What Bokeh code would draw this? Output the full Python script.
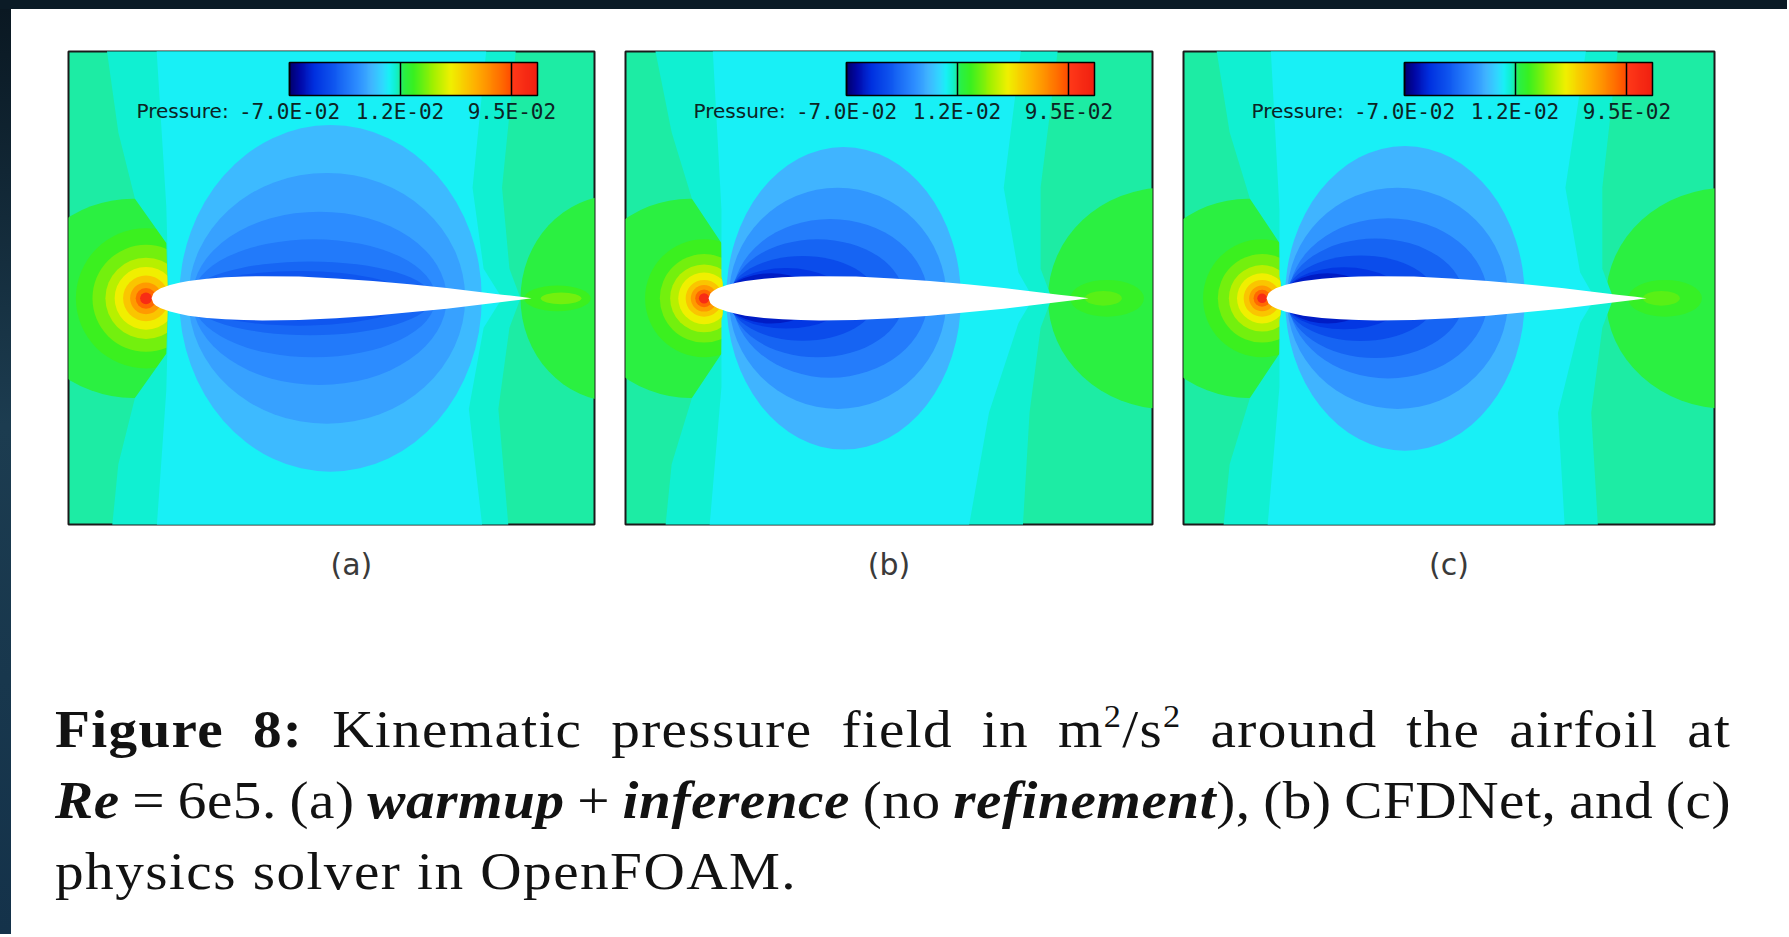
from bokeh.plotting import figure
from bokeh.models import (ColumnDataSource, LinearColorMapper, ColorBar, FixedTicker,
                          CustomJSTickFormatter, Label, Title, Div)
from bokeh.layouts import column, row
from bokeh.transform import transform
from bokeh.embed import file_html
from bokeh.resources import INLINE

# ------------------------------------------------------------------ data
# legend range / ticks (kinematic pressure, m^2/s^2)
P_LOW = -0.070
P_HIGH = 0.114
LEGEND_TICKS = [-0.070, 0.012, 0.095]

# airfoil: chordwise stations and half-thickness (chord units)
AIRFOIL_X = [0.0, 0.005, 0.0125, 0.025, 0.05, 0.075, 0.1, 0.15, 0.2, 0.25, 0.3,
             0.4, 0.5, 0.6, 0.7, 0.8, 0.9, 0.95, 1.0, 1.03]
AIRFOIL_T = [0.0, 0.013, 0.020, 0.027, 0.036, 0.042, 0.047, 0.053, 0.057, 0.059, 0.060,
             0.059, 0.054, 0.047, 0.038, 0.028, 0.016, 0.010, 0.004, 0.0]

# pressure levels of the far field and of the two wedges above/below the airfoil
FAR_LEVEL = 0.0119
AQUA_LEVEL = 0.0082
CYAN_LEVEL = 0.0036

# ---- panel (a): warmup + inference
A_BLUE_CX = [0.485, 0.475, 0.455, 0.44, 0.43, 0.40]
A_BLUE_A = [0.41, 0.375, 0.345, 0.33, 0.33, 0.30]
A_BLUE_B = [0.47, 0.34, 0.235, 0.16, 0.10, 0.074]
A_BLUE_LV = [-0.008, -0.014, -0.020, -0.026, -0.032, -0.037]
A_LE_X = -0.015
A_LE_R = [0.19, 0.145, 0.11, 0.085, 0.062, 0.043, 0.028, 0.016]
A_LE_LV = [0.022, 0.030, 0.040, 0.050, 0.062, 0.074, 0.088, 0.104]
A_LOBE_CX = [-0.05, 1.26, 1.10, 1.11]
A_LOBE_A = [0.30, 0.26, 0.09, 0.055]
A_LOBE_B = [0.27, 0.28, 0.035, 0.016]
A_LOBE_LV = [0.016, 0.016, 0.022, 0.030]
A_CYAN_UP_X = [0.05, 0.045, 0.04, 0.012, 0.91, 0.87, 0.90, 0.95]
A_CYAN_UP_Y = [0.0, 0.06, 0.25, 0.70, 0.70, 0.30, 0.08, 0.0]
A_CYAN_LO_X = [0.05, 0.045, 0.04, 0.012, 0.90, 0.86, 0.90, 0.95]
A_CYAN_LO_Y = [0.0, -0.06, -0.25, -0.65, -0.65, -0.30, -0.08, 0.0]
A_AQUA_UP_X = [0.045, 0.04, -0.045, -0.09, -0.125, 0.99, 0.95, 0.97, 1.0]
A_AQUA_UP_Y = [0.0, 0.15, 0.27, 0.45, 0.70, 0.70, 0.30, 0.08, 0.0]
A_AQUA_LO_X = [0.045, 0.04, -0.045, -0.09, -0.11, 0.97, 0.94, 0.97, 1.0]
A_AQUA_LO_Y = [0.0, -0.15, -0.27, -0.45, -0.65, -0.65, -0.30, -0.08, 0.0]

# ---- panel (b): CFDNet
B_BLUE_CX = [0.366, 0.35, 0.33, 0.295, 0.255, 0.21, 0.17]
B_BLUE_A = [0.318, 0.295, 0.265, 0.235, 0.20, 0.165, 0.125]
B_BLUE_B = [0.41, 0.30, 0.215, 0.16, 0.115, 0.082, 0.068]
B_BLUE_LV = [-0.009, -0.017, -0.025, -0.033, -0.041, -0.049, -0.057]
B_LE_X = -0.012
B_LE_R = [0.16, 0.12, 0.092, 0.07, 0.05, 0.036, 0.024, 0.014]
B_LE_LV = [0.022, 0.030, 0.040, 0.050, 0.062, 0.074, 0.088, 0.104]
B_LOBE_CX = [-0.05, 1.24, 1.08, 1.07]
B_LOBE_A = [0.29, 0.32, 0.10, 0.05]
B_LOBE_B = [0.27, 0.30, 0.05, 0.02]
B_LOBE_LV = [0.016, 0.016, 0.021, 0.027]
B_CYAN_UP_X = [0.05, 0.035, 0.035, 0.01, 0.85, 0.80, 0.84, 0.88]
B_CYAN_UP_Y = [0.0, 0.06, 0.24, 0.70, 0.70, 0.30, 0.07, 0.0]
B_CYAN_LO_X = [0.05, 0.035, 0.035, 0.0, 0.70, 0.76, 0.84, 0.88]
B_CYAN_LO_Y = [0.0, -0.06, -0.24, -0.65, -0.65, -0.31, -0.067, 0.0]
B_AQUA_UP_X = [0.04, 0.035, -0.045, -0.10, -0.15, 0.95, 0.90, 0.90, 0.93]
B_AQUA_UP_Y = [0.0, 0.15, 0.27, 0.45, 0.70, 0.70, 0.30, 0.08, 0.0]
B_AQUA_LO_X = [0.04, 0.035, -0.045, -0.10, -0.12, 0.85, 0.87, 0.90, 0.93]
B_AQUA_LO_Y = [0.0, -0.15, -0.27, -0.45, -0.65, -0.65, -0.31, -0.08, 0.0]

# ---- panel (c): physics solver (OpenFOAM)
C_BLUE_CX = [0.375, 0.355, 0.33, 0.295, 0.255, 0.21, 0.165]
C_BLUE_A = [0.325, 0.30, 0.27, 0.24, 0.205, 0.165, 0.12]
C_BLUE_B = [0.413, 0.30, 0.217, 0.162, 0.116, 0.084, 0.068]
C_BLUE_LV = [-0.009, -0.017, -0.025, -0.033, -0.041, -0.049, -0.057]
C_LE_X = -0.012
C_LE_R = [0.16, 0.12, 0.09, 0.068, 0.05, 0.035, 0.023, 0.013]
C_LE_LV = [0.022, 0.030, 0.040, 0.050, 0.062, 0.074, 0.088, 0.104]
C_LOBE_CX = [-0.05, 1.25, 1.08, 1.07]
C_LOBE_A = [0.29, 0.33, 0.10, 0.05]
C_LOBE_B = [0.27, 0.30, 0.05, 0.02]
C_LOBE_LV = [0.016, 0.016, 0.021, 0.027]
C_CYAN_UP_X = [0.05, 0.035, 0.035, 0.01, 0.87, 0.81, 0.85, 0.89]
C_CYAN_UP_Y = [0.0, 0.06, 0.24, 0.70, 0.70, 0.30, 0.07, 0.0]
C_CYAN_LO_X = [0.05, 0.035, 0.035, 0.0, 0.81, 0.79, 0.85, 0.89]
C_CYAN_LO_Y = [0.0, -0.06, -0.24, -0.65, -0.65, -0.31, -0.067, 0.0]
C_AQUA_UP_X = [0.04, 0.035, -0.045, -0.10, -0.14, 0.955, 0.91, 0.91, 0.94]
C_AQUA_UP_Y = [0.0, 0.15, 0.27, 0.45, 0.70, 0.70, 0.30, 0.08, 0.0]
C_AQUA_LO_X = [0.04, 0.035, -0.045, -0.10, -0.12, 0.90, 0.88, 0.91, 0.94]
C_AQUA_LO_Y = [0.0, -0.15, -0.27, -0.45, -0.65, -0.65, -0.31, -0.08, 0.0]

PANEL_LABELS = ["(a)", "(b)", "(c)"]

CAPTION_LINE1 = ["<b>Figure</b>", "<b>8:</b>", "Kinematic", "pressure", "field", "in",
                 "m<sup>2</sup>/s<sup>2</sup>", "around", "the", "airfoil", "at"]
CAPTION_LINE2 = ["<b><i>Re</i></b>", "=", "6e5.", "(a)", "<b><i>warmup</i></b>", "+",
                 "<b><i>inference</i></b>", "(no", "<b><i>refinement</i></b>),", "(b)",
                 "CFDNet,", "and", "(c)"]
CAPTION_LINE3 = "physics solver in OpenFOAM."

# ------------------------------------------------------------------ colour scale (Tecplot-like rainbow)
STOP_T = [0.00, 0.04, 0.10, 0.18, 0.27, 0.33, 0.375, 0.40, 0.425, 0.445, 0.46, 0.50,
          0.58, 0.65, 0.75, 0.85, 0.89, 0.90, 1.00]
STOP_C = ["#00006e", "#0008a8", "#0030e0", "#1058f0", "#2c8cff", "#40b4ff", "#30d8ff",
          "#18f0f6", "#10f0d0", "#1eeca0", "#28f048", "#38f020", "#a0f000", "#f0f000",
          "#ffb000", "#ff7000", "#ff5000", "#ff3818", "#f02010"]


def _rgb(c):
    return [int(c[i:i + 2], 16) for i in (1, 3, 5)]


PALETTE = []
for i in range(256):
    t = i / 255
    for k in range(len(STOP_T) - 1):
        if STOP_T[k] <= t <= STOP_T[k + 1]:
            f = (t - STOP_T[k]) / (STOP_T[k + 1] - STOP_T[k])
            c0, c1 = _rgb(STOP_C[k]), _rgb(STOP_C[k + 1])
            PALETTE.append("#%02x%02x%02x" % tuple(round(c0[j] + (c1[j] - c0[j]) * f) for j in range(3)))
            break

mapper = LinearColorMapper(palette=PALETTE, low=P_LOW, high=P_HIGH)


def level_color(v):
    idx = int((v - P_LOW) / (P_HIGH - P_LOW) * len(PALETTE))
    return PALETTE[max(0, min(len(PALETTE) - 1, idx))]


# ------------------------------------------------------------------ layout constants
PX_PER_UNIT = 369.0
X_START = -0.225
Y_RANGE = (-0.613, 0.669)
TOP = 42
FRAME_H = 473
BOTTOM = 82
FIG_H = TOP + FRAME_H + BOTTOM

TICK_FONT = "DejaVu Sans Mono"
NAME_FONT = "DejaVu Sans"
LABEL_COLOR = "#0c2424"

fmt = CustomJSTickFormatter(code="""
const s = tick.toExponential(1).toUpperCase();
const parts = s.split("E");
const e = parseInt(parts[1]);
return parts[0] + "E" + (e < 0 ? "-" : "+") + String(Math.abs(e)).padStart(2, "0");
""")


def make_panel(width, left, right, label, label_align, label_offset, blue, le, lobes, cyan, aqua):
    frame_w = width - left - right
    p = figure(width=width, height=FIG_H,
               x_range=(X_START, X_START + frame_w / PX_PER_UNIT), y_range=Y_RANGE,
               output_backend="svg", toolbar_location=None,
               x_axis_location=None, y_axis_location=None,
               min_border_left=left, min_border_right=right,
               min_border_top=TOP, min_border_bottom=BOTTOM)
    p.grid.visible = False
    p.background_fill_color = level_color(FAR_LEVEL)
    p.border_fill_color = "white"
    p.outline_line_color = "#1a1a1a"
    p.outline_line_width = 2

    # green lobes up- and downstream, trailing-edge spot
    lcx, la, lb, llv = lobes
    p.ellipse(x="x", y="y", width="w", height="h", line_color=None,
              fill_color=transform("level", mapper),
              source=ColumnDataSource(dict(x=lcx, y=[0.0] * len(lcx), w=[2 * a for a in la],
                                           h=[2 * b for b in lb], level=llv)))
    # stagnation rings at the leading edge
    lex, ler, lelv = le
    p.ellipse(x="x", y="y", width="w", height="h", line_color=None,
              fill_color=transform("level", mapper),
              source=ColumnDataSource(dict(x=[lex] * len(ler), y=[0.0] * len(ler),
                                           w=[2 * r for r in ler], h=[2 * r for r in ler], level=lelv)))
    # wedges above and below the airfoil
    for (ux, uy, lx, ly), lv in ((aqua, AQUA_LEVEL), (cyan, CYAN_LEVEL)):
        p.patches(xs="xs", ys="ys", line_color=None, fill_color=transform("level", mapper),
                  source=ColumnDataSource(dict(xs=[ux, lx], ys=[uy, ly], level=[lv, lv])))
    # suction bands
    bcx, ba, bb, blv = blue
    p.ellipse(x="x", y="y", width="w", height="h", line_color=None,
              fill_color=transform("level", mapper),
              source=ColumnDataSource(dict(x=bcx, y=[0.0] * len(bcx), w=[2 * a for a in ba],
                                           h=[2 * b for b in bb], level=blv)))
    # airfoil
    xs = AIRFOIL_X + AIRFOIL_X[::-1]
    ys = AIRFOIL_T + [-t for t in AIRFOIL_T[::-1]]
    p.patch(xs, ys, fill_color="white", line_color=None)

    # legend
    cb = ColorBar(color_mapper=mapper, orientation="horizontal", location=(221, 398),
                  width=248, height=33, padding=0, margin=0,
                  ticker=FixedTicker(ticks=LEGEND_TICKS), formatter=fmt,
                  major_tick_in=33, major_tick_out=0, major_tick_line_color="black",
                  major_tick_line_width=1.5, minor_tick_line_color=None,
                  bar_line_color="black", bar_line_width=1.5, label_standoff=4,
                  major_label_text_font=TICK_FONT, major_label_text_font_size="21px",
                  major_label_text_color=LABEL_COLOR,
                  background_fill_alpha=0, border_line_color=None)
    p.add_layout(cb)
    p.add_layout(Label(x=X_START + 68 / PX_PER_UNIT, y=Y_RANGE[1] - 60 / PX_PER_UNIT,
                       text="Pressure:", text_font=NAME_FONT, text_font_size="20px",
                       text_color=LABEL_COLOR, text_baseline="middle", text_align="left"))
    p.add_layout(Title(text=label, align=label_align, offset=label_offset, standoff=41,
                       text_font="DejaVu Sans", text_font_size="30px", text_font_style="normal",
                       text_color="#3a3a3a"), "below")
    return p


pa = make_panel(598, 57, 15, PANEL_LABELS[0], "left", 262,
                (A_BLUE_CX, A_BLUE_A, A_BLUE_B, A_BLUE_LV), (A_LE_X, A_LE_R, A_LE_LV),
                (A_LOBE_CX, A_LOBE_A, A_LOBE_B, A_LOBE_LV),
                (A_CYAN_UP_X, A_CYAN_UP_Y, A_CYAN_LO_X, A_CYAN_LO_Y),
                (A_AQUA_UP_X, A_AQUA_UP_Y, A_AQUA_LO_X, A_AQUA_LO_Y))
pb = make_panel(558, 16, 15, PANEL_LABELS[1], "center", 0,
                (B_BLUE_CX, B_BLUE_A, B_BLUE_B, B_BLUE_LV), (B_LE_X, B_LE_R, B_LE_LV),
                (B_LOBE_CX, B_LOBE_A, B_LOBE_B, B_LOBE_LV),
                (B_CYAN_UP_X, B_CYAN_UP_Y, B_CYAN_LO_X, B_CYAN_LO_Y),
                (B_AQUA_UP_X, B_AQUA_UP_Y, B_AQUA_LO_X, B_AQUA_LO_Y))
pc = make_panel(620, 16, 73, PANEL_LABELS[2], "center", 0,
                (C_BLUE_CX, C_BLUE_A, C_BLUE_B, C_BLUE_LV), (C_LE_X, C_LE_R, C_LE_LV),
                (C_LOBE_CX, C_LOBE_A, C_LOBE_B, C_LOBE_LV),
                (C_CYAN_UP_X, C_CYAN_UP_Y, C_CYAN_LO_X, C_CYAN_LO_Y),
                (C_AQUA_UP_X, C_AQUA_UP_Y, C_AQUA_LO_X, C_AQUA_LO_Y))

# ------------------------------------------------------------------ caption
SUP = '<sup style="font-size:0.6em;vertical-align:0.62em;line-height:0;">'
STRETCH = 1.08
LINE_W = round(1676 / STRETCH)
CAP_H = 925 - FIG_H
CAP_PAD_TOP = 100 - (FIG_H - 585)


def line_css(ls, justify=True):
    return (("display:flex;justify-content:space-between;align-items:baseline;" if justify else "") +
            "width:%dpx;height:71px;line-height:71px;white-space:nowrap;letter-spacing:%spx;"
            "transform:scaleX(%s);transform-origin:0 0;" % (LINE_W, ls, STRETCH))


def spans(words):
    return "".join("<span>%s</span>" % w.replace("<sup>", SUP) for w in words)


caption_html = (
    '<div style="width:1776px;height:%dpx;box-sizing:border-box;padding:%dpx 56px 0 44px;'
    "font-family:'Liberation Serif',serif;font-size:53px;color:#121212;background:#ffffff;\">"
    % (CAP_H, CAP_PAD_TOP) +
    '<div style="%s">%s</div>' % (line_css(1.2), spans(CAPTION_LINE1)) +
    '<div style="%s">%s</div>' % (line_css(0.5), spans(CAPTION_LINE2)) +
    '<div style="%s">%s</div>' % (line_css(1.35, False), CAPTION_LINE3) +
    '</div>'
)
caption = Div(text=caption_html, width=1776, height=CAP_H, margin=0)

# dark frame of the screenshot (top and left edges)
top_strip = Div(text="", width=1787, height=9, margin=0, styles={"background-color": "#0b1b26"})
left_strip = Div(text="", width=11, height=925, margin=0,
                 styles={"background": "linear-gradient(#0a1822, #1c3c50 45%, #14324a)"})

p = column(top_strip, row(left_strip, column(row(pa, pb, pc), caption)))

html = file_html(p, INLINE)
html = html.replace("<body>", '<body style="margin:0;padding:0;background:#ffffff;">', 1)
open("out.html", "w").write(html)
